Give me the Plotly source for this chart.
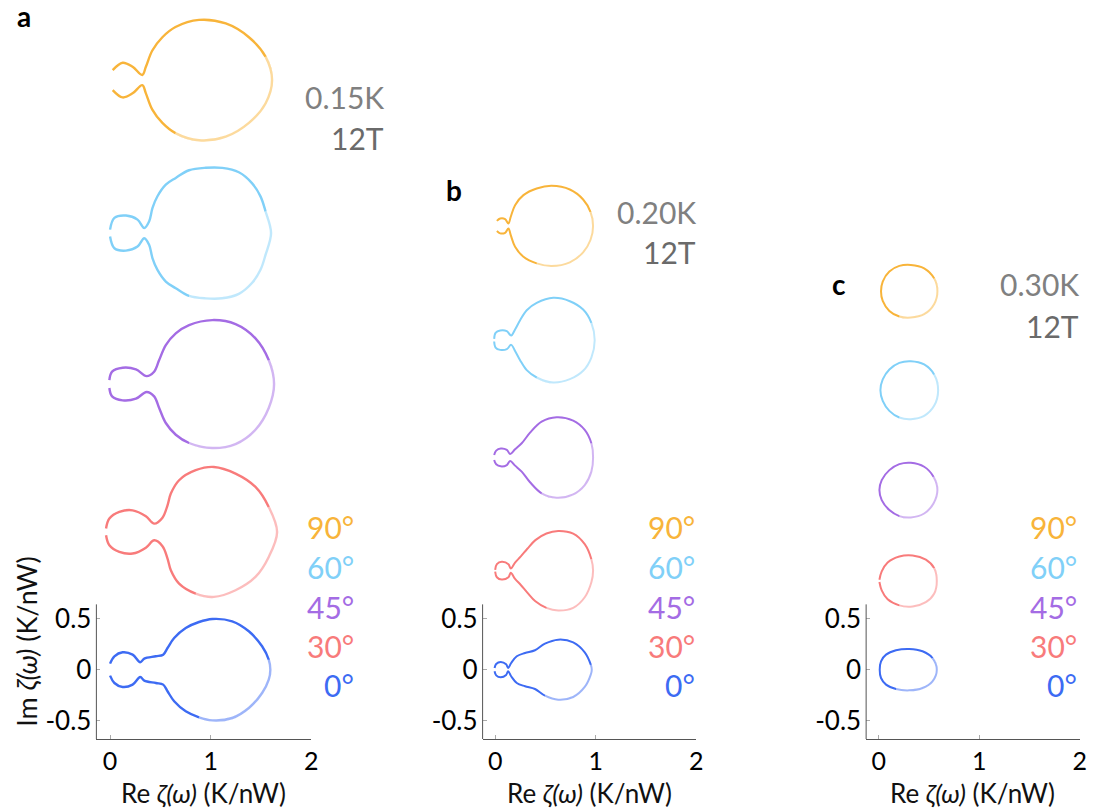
import plotly.graph_objects as go

W, H = 1097, 812
FONT = "Lato"

ANGLES = ["90°", "60°", "45°", "30°", "0°"]
ANGLE_COLORS = ["#F8B43A", "#80D0F8", "#A46CE4", "#F87B7B", "#3D6BF3"]

# ---------- panel a : 0.15 K, 12 T  (upper half of each loop, Re / Im in K/nW)
A_RE_90 = [0.026, 0.125, 0.224, 0.32, 0.356, 0.42, 0.52, 0.65, 0.884, 1.15, 1.38, 1.545, 1.61]
A_IM_90 = [0.098, 0.17, 0.13, 0.05, 0.13, 0.29, 0.42, 0.52, 0.59, 0.555, 0.42, 0.23, 0.0]
A_RE_60 = [0.0, 0.043, 0.158, 0.273, 0.34, 0.389, 0.422, 0.471, 0.554, 0.653, 0.785, 0.95, 1.115, 1.28, 1.41, 1.495, 1.545, 1.60]
A_IM_60 = [0.034, 0.149, 0.172, 0.132, 0.05, 0.116, 0.247, 0.361, 0.475, 0.541, 0.616, 0.64, 0.639, 0.596, 0.49, 0.36, 0.214, 0.0]
A_RE_45 = [-0.007, 0.02, 0.125, 0.257, 0.363, 0.438, 0.488, 0.554, 0.653, 0.785, 1.016, 1.247, 1.445, 1.577, 1.63]
A_IM_45 = [0.039, 0.121, 0.16, 0.144, 0.078, 0.121, 0.235, 0.382, 0.497, 0.578, 0.627, 0.588, 0.448, 0.235, 0.0]
A_RE_30 = [-0.04, -0.007, 0.092, 0.224, 0.356, 0.439, 0.521, 0.571, 0.604, 0.686, 0.851, 1.032, 1.247, 1.445, 1.577, 1.66]
A_IM_30 = [0.033, 0.131, 0.196, 0.212, 0.154, 0.082, 0.14, 0.261, 0.376, 0.507, 0.605, 0.637, 0.572, 0.441, 0.245, 0.0]
A_RE_0 = [0.0, 0.043, 0.125, 0.224, 0.30, 0.34, 0.455, 0.528, 0.571, 0.637, 0.752, 0.884, 1.016, 1.214, 1.379, 1.511, 1.577, 1.593]
A_IM_0 = [0.059, 0.131, 0.17, 0.147, 0.072, 0.108, 0.131, 0.147, 0.212, 0.31, 0.408, 0.467, 0.497, 0.474, 0.376, 0.229, 0.098, 0.0]
A_OFFSETS = [5.78, 4.28, 2.80, 1.35, 0.0]

# ---------- panel b : 0.20 K, 12 T
B_RE_90 = [0.017, 0.05, 0.099, 0.132, 0.155, 0.198, 0.281, 0.413, 0.561, 0.743, 0.875, 0.948, 0.974]
B_IM_90 = [0.05, 0.073, 0.067, 0.024, 0.09, 0.204, 0.302, 0.367, 0.393, 0.357, 0.259, 0.138, 0.0]
B_RE_60 = [-0.01, 0.004, 0.05, 0.116, 0.159, 0.198, 0.248, 0.314, 0.413, 0.578, 0.743, 0.875, 0.957, 0.99]
B_IM_60 = [0.013, 0.072, 0.095, 0.088, 0.046, 0.105, 0.196, 0.294, 0.366, 0.415, 0.382, 0.3, 0.17, 0.0]
B_RE_45 = [-0.01, 0.01, 0.056, 0.116, 0.149, 0.198, 0.264, 0.347, 0.462, 0.611, 0.776, 0.891, 0.957, 0.974]
B_IM_45 = [0.025, 0.067, 0.087, 0.074, 0.034, 0.08, 0.139, 0.243, 0.351, 0.394, 0.361, 0.27, 0.139, 0.0]
B_RE_30 = [0.0, 0.017, 0.066, 0.132, 0.155, 0.198, 0.255, 0.32, 0.40, 0.51, 0.627, 0.776, 0.891, 0.957, 0.974]
B_IM_30 = [0.008, 0.064, 0.087, 0.064, 0.021, 0.08, 0.14, 0.215, 0.30, 0.365, 0.39, 0.364, 0.26, 0.113, 0.0]
B_RE_0 = [-0.006, 0.01, 0.056, 0.109, 0.129, 0.159, 0.215, 0.297, 0.396, 0.495, 0.627, 0.776, 0.891, 0.951, 0.961]
B_IM_0 = [0.016, 0.056, 0.075, 0.052, 0.016, 0.065, 0.131, 0.163, 0.19, 0.255, 0.294, 0.268, 0.17, 0.049, 0.0]
B_OFFSETS = [4.35, 3.23, 2.08, 0.97, 0.0]

# ---------- panel c : 0.30 K, 12 T
C_RE_90 = [0.023, 0.04, 0.106, 0.205, 0.32, 0.452, 0.551, 0.584]
C_IM_90 = [0.0, 0.095, 0.193, 0.248, 0.258, 0.225, 0.127, 0.0]
C_RE_60 = [0.017, 0.04, 0.106, 0.205, 0.32, 0.452, 0.551, 0.591]
C_IM_60 = [0.0, 0.105, 0.203, 0.268, 0.284, 0.252, 0.154, 0.0]
C_RE_45 = [0.007, 0.03, 0.106, 0.205, 0.32, 0.452, 0.545, 0.584]
C_IM_45 = [0.0, 0.098, 0.196, 0.255, 0.268, 0.229, 0.131, 0.0]
C_RE_30 = [0.007, 0.03, 0.089, 0.205, 0.337, 0.469, 0.551, 0.578]
C_IM_30 = [0.011, 0.093, 0.181, 0.24, 0.25, 0.208, 0.126, 0.0]
C_RE_0 = [0.01, 0.023, 0.073, 0.172, 0.304, 0.436, 0.535, 0.578]
C_IM_0 = [0.0, 0.082, 0.147, 0.19, 0.203, 0.18, 0.114, 0.0]
C_OFFSETS = [3.71, 2.74, 1.76, 0.87, 0.0]

X_TICKS = [0, 1, 2]
Y_TICKS = [-0.5, 0, 0.5]
Y_TICKTEXT = ["-0.5", "0", "0.5"]
X_TITLE = "Re <i>ζ(ω)</i> (K/nW)"
Y_TITLE = "Im <i>ζ(ω)</i> (K/nW)"

PANELS = [
    dict(label="a", temp="0.15K", field="12T",
         re=[A_RE_90, A_RE_60, A_RE_45, A_RE_30, A_RE_0],
         im=[A_IM_90, A_IM_60, A_IM_45, A_IM_30, A_IM_0],
         off=A_OFFSETS, px=(97, 313.3), xr=(-0.136, 2.0), lw=2.4,
         lab_xy=(24, 16), temp_xy=(388, 97, 138), ang_x=358),
    dict(label="b", temp="0.20K", field="12T",
         re=[B_RE_90, B_RE_60, B_RE_45, B_RE_30, B_RE_0],
         im=[B_IM_90, B_IM_60, B_IM_45, B_IM_30, B_IM_0],
         off=B_OFFSETS, px=(485.7, 700.7), xr=(-0.125, 2.0), lw=2.0,
         lab_xy=(457, 190), temp_xy=(702, 212, 252), ang_x=701),
    dict(label="c", temp="0.30K", field="12T",
         re=[C_RE_90, C_RE_60, C_RE_45, C_RE_30, C_RE_0],
         im=[C_IM_90, C_IM_60, C_IM_45, C_IM_30, C_IM_0],
         off=C_OFFSETS, px=(871.7, 1086.7), xr=(-0.125, 2.0), lw=2.0,
         lab_xy=(844, 284), temp_xy=(1088, 284, 326), ang_x=1086),
]
ANG_Y = [527, 567, 606.5, 645.5, 684.5]

Y_BOTTOM_PX = 739
Y_UNIT_PX = 102
Y_MIN = -0.68
Y_MAX = Y_MIN + Y_BOTTOM_PX / Y_UNIT_PX
Y_AXIS_TOP = 0.64


fig = go.Figure()
annotations = []
shapes = []
layout = {}

for p_i, P in enumerate(PANELS):
    n = p_i + 1
    xa = "x" if n == 1 else f"x{n}"
    ya = "y" if n == 1 else f"y{n}"
    for k in range(5):
        re = P["re"][k]
        im = P["im"][k]
        off = P["off"][k]
        col = ANGLE_COLORS[k]
        m = len(re)
        top = max(range(m), key=lambda i: im[i])
        # one continuous open loop: upper branch left->right, lower branch right->left
        fx = re + re[-2::-1]
        fy = [v + off for v in im] + [-v + off for v in im[-2::-1]]
        fig.add_trace(go.Scatter(
            x=fx, y=fy, mode="lines",
            line=dict(color=col, width=P["lw"], shape="spline", smoothing=1.0),
            xaxis=xa, yaxis=ya, showlegend=False, hoverinfo="skip"))
        # lower-right part of the loop appears faded: white translucent overlay
        i0 = m - 2
        i1 = min((m - 1) + (m - 1 - top) + 1, len(fx) - 1)
        fig.add_trace(go.Scatter(
            x=fx[i0:i1 + 1], y=fy[i0:i1 + 1], mode="lines",
            line=dict(color="rgba(255,255,255,0.5)", width=P["lw"] + 1.4, shape="spline", smoothing=1.0),
            xaxis=xa, yaxis=ya, showlegend=False, hoverinfo="skip"))

    layout["xaxis" if n == 1 else f"xaxis{n}"] = dict(
        domain=[P["px"][0] / W, P["px"][1] / W], range=list(P["xr"]), anchor=ya,
        showline=True, linecolor="#555555", linewidth=1,
        ticks="inside", ticklen=4, tickwidth=1, tickcolor="#aaaaaa",
        tickvals=X_TICKS, tickfont=dict(size=25, color="black", family=FONT),
        showgrid=False, zeroline=False, fixedrange=True)
    layout["yaxis" if n == 1 else f"yaxis{n}"] = dict(
        domain=[(H - Y_BOTTOM_PX) / H, 1], range=[Y_MIN, Y_MAX], anchor=xa,
        showline=False, ticks="inside", ticklen=4, tickwidth=1, tickcolor="#aaaaaa",
        tickvals=Y_TICKS, ticktext=Y_TICKTEXT, ticklabelstandoff=4,
        tickfont=dict(size=26, color="black", family=FONT),
        showgrid=False, zeroline=False, fixedrange=True)

    shapes.append(dict(type="line", xref=f"{xa} domain", yref=ya, x0=0, x1=0,
                       y0=Y_MIN, y1=Y_AXIS_TOP, line=dict(color="#555555", width=1)))

    # x-axis title
    annotations.append(dict(text=X_TITLE, x=(P["px"][0] + P["px"][1]) / 2 / W, y=1 - 793 / H,
                            xref="paper", yref="paper", xanchor="center", yanchor="middle",
                            showarrow=False, font=dict(size=26, color="#111111", family=FONT)))

    lx, ly = P["lab_xy"]
    annotations.append(dict(text=f"<b>{P['label']}</b>", x=lx / W, y=1 - ly / H, xref="paper", yref="paper",
                            xanchor="center", yanchor="middle", showarrow=False,
                            font=dict(size=28, color="black", family=FONT)))
    tx, ty1, ty2 = P["temp_xy"]
    annotations.append(dict(text=P["temp"], x=tx / W, y=1 - ty1 / H, xref="paper", yref="paper",
                            xanchor="right", yanchor="middle", showarrow=False,
                            font=dict(size=30, color="#808080", family=FONT)))
    annotations.append(dict(text=P["field"], x=tx / W, y=1 - ty2 / H, xref="paper", yref="paper",
                            xanchor="right", yanchor="middle", showarrow=False,
                            font=dict(size=30, color="#6a6a6a", family=FONT)))
    for k in range(5):
        annotations.append(dict(text=ANGLES[k], x=P["ang_x"] / W, y=1 - ANG_Y[k] / H,
                                xref="paper", yref="paper", xanchor="right", yanchor="middle",
                                showarrow=False, font=dict(size=30, color=ANGLE_COLORS[k], family=FONT)))

annotations.append(dict(text=Y_TITLE, x=26 / W, y=1 - 641 / H, xref="paper", yref="paper",
                        xanchor="center", yanchor="middle", textangle=-90, showarrow=False,
                        font=dict(size=27, color="#111111", family=FONT)))

fig.update_layout(
    width=W, height=H, margin=dict(l=0, r=0, t=0, b=0),
    paper_bgcolor="white", plot_bgcolor="white",
    font=dict(family=FONT), showlegend=False,
    annotations=annotations, shapes=shapes, **layout)

fig.write_html("out.html")
